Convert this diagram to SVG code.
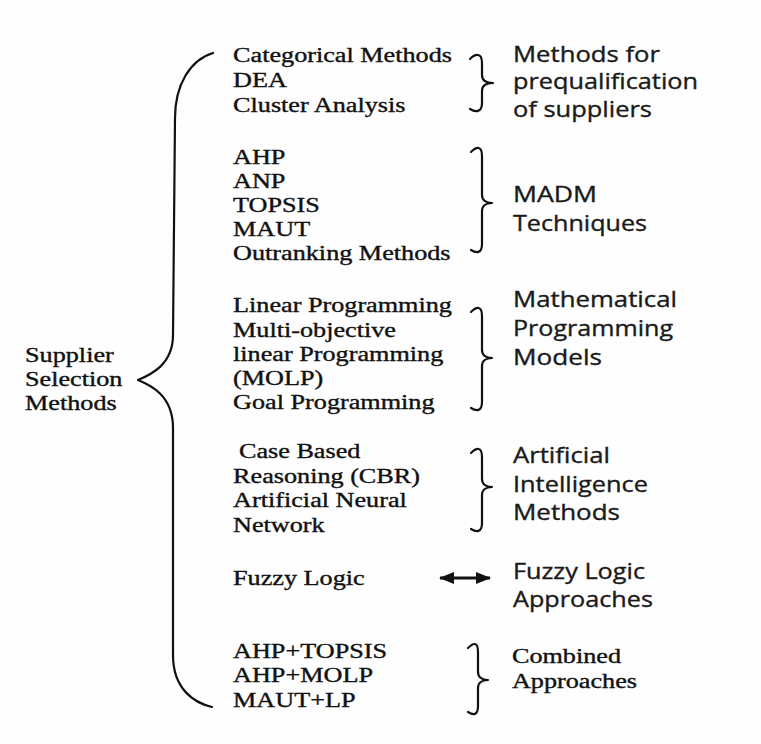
<svg xmlns="http://www.w3.org/2000/svg" width="761" height="744" viewBox="0 0 761 744">
<style>
.s{font-family:"Liberation Serif","Times New Roman",serif;font-size:20px;fill:#111;stroke:#111;stroke-width:0.35}
.a{font-family:"Open Sans","Noto Sans",sans-serif;font-size:21px;fill:#1a1a1a;stroke:#1a1a1a;stroke-width:0.35}
.br{fill:none;stroke:#111;stroke-width:2.2;stroke-linecap:round;stroke-linejoin:round}
.ar{stroke:#111;stroke-width:3}
</style>
<defs>
<marker id="head" viewBox="0 0 15 12" markerWidth="15" markerHeight="12" refX="14" refY="6" orient="auto-start-reverse" markerUnits="userSpaceOnUse">
<path d="M0,0 L15,6 L0,12 z" fill="#111"/>
</marker>
</defs>
<rect width="761" height="744" fill="#fefefe"/>

<g id="connectors">
<path class="br" d="M213,53 C190,60 175,85 175,118 L173,335 C173,365 150,375 138,380 C150,385 173,395 173,428 L173,655 C173,690 195,703 212,707"/>
<path class="br" d="M470,59 C475,54 482,52 482,63 L482,75 C482,80 486,83 493,83 C486,83 482,86 482,91 L482,103 C482,113 475,112 470,109"/>
<path class="br" d="M471,152 C476,147 482,145 482,156 L482,195 C482,200 486,203 492,203 C486,203 482,206 482,211 L482,244 C482,254 476,253 471,250"/>
<path class="br" d="M471,312 C476,307 482,305 482,316 L482,350 C482,355 486,358 492,358 C486,358 482,361 482,366 L482,402 C482,412 476,411 471,408"/>
<path class="br" d="M471,453 C476,448 482,446 482,457 L482,479 C482,484 486,487 492,487 C486,487 482,490 482,495 L482,523 C482,533 476,532 471,529"/>
<path class="br" d="M468,648 C473,643 478,641 478,652 L478,672 C478,677 482,680 488,680 C482,680 478,683 478,688 L478,706 C478,716 473,715 468,712"/>
<line class="ar" x1="440" y1="578" x2="490" y2="578" marker-start="url(#head)" marker-end="url(#head)"/>
</g>

<g id="root" transform="scale(1.31 1)">
<text class="s" x="19.1" y="362">Supplier</text>
<text class="s" x="19.1" y="386">Selection</text>
<text class="s" x="19.1" y="410">Methods</text>
</g>

<g id="prequal-methods" transform="scale(1.31 1)">
<text class="s" x="177.9" y="62">Categorical Methods</text>
<text class="s" x="177.9" y="87">DEA</text>
<text class="s" x="177.9" y="112">Cluster Analysis</text>
</g>
<g id="madm-methods" transform="scale(1.31 1)">
<text class="s" x="177.9" y="164">AHP</text>
<text class="s" x="177.9" y="188">ANP</text>
<text class="s" x="177.9" y="212">TOPSIS</text>
<text class="s" x="177.9" y="236">MAUT</text>
<text class="s" x="177.9" y="260">Outranking Methods</text>
</g>
<g id="mp-methods" transform="scale(1.31 1)">
<text class="s" x="177.9" y="312">Linear Programming</text>
<text class="s" x="177.9" y="337">Multi-objective</text>
<text class="s" x="177.9" y="361">linear Programming</text>
<text class="s" x="177.9" y="385">(MOLP)</text>
<text class="s" x="177.9" y="409">Goal Programming</text>
</g>
<g id="ai-methods" transform="scale(1.31 1)">
<text class="s" x="182.4" y="458">Case Based</text>
<text class="s" x="177.9" y="483">Reasoning (CBR)</text>
<text class="s" x="177.9" y="507">Artificial Neural</text>
<text class="s" x="177.9" y="532">Network</text>
</g>
<g id="fuzzy-methods" transform="scale(1.31 1)">
<text class="s" x="177.9" y="585">Fuzzy Logic</text>
</g>
<g id="combined-methods" transform="scale(1.31 1)">
<text class="s" x="177.9" y="658">AHP+TOPSIS</text>
<text class="s" x="177.9" y="682">AHP+MOLP</text>
<text class="s" x="177.9" y="707">MAUT+LP</text>
</g>

<g id="cat-prequal">
<text class="a" x="513" y="62" textLength="147" lengthAdjust="spacingAndGlyphs">Methods for</text>
<text class="a" x="513" y="89" textLength="185" lengthAdjust="spacingAndGlyphs">prequalification</text>
<text class="a" x="513" y="117" textLength="139" lengthAdjust="spacingAndGlyphs">of suppliers</text>
</g>
<g id="cat-madm">
<text class="a" x="513" y="202" textLength="84" lengthAdjust="spacingAndGlyphs">MADM</text>
<text class="a" x="513" y="231" textLength="134" lengthAdjust="spacingAndGlyphs">Techniques</text>
</g>
<g id="cat-mp">
<text class="a" x="513" y="307" textLength="164" lengthAdjust="spacingAndGlyphs">Mathematical</text>
<text class="a" x="513" y="336" textLength="160" lengthAdjust="spacingAndGlyphs">Programming</text>
<text class="a" x="513" y="365" textLength="89" lengthAdjust="spacingAndGlyphs">Models</text>
</g>
<g id="cat-ai">
<text class="a" x="513" y="463" textLength="97" lengthAdjust="spacingAndGlyphs">Artificial</text>
<text class="a" x="513" y="492" textLength="135" lengthAdjust="spacingAndGlyphs">Intelligence</text>
<text class="a" x="513" y="520" textLength="107" lengthAdjust="spacingAndGlyphs">Methods</text>
</g>
<g id="cat-fuzzy">
<text class="a" x="513" y="579" textLength="132" lengthAdjust="spacingAndGlyphs">Fuzzy Logic</text>
<text class="a" x="513" y="607" textLength="140" lengthAdjust="spacingAndGlyphs">Approaches</text>
</g>
<g id="cat-combined" transform="scale(1.31 1)">
<text class="s" x="390.8" y="663">Combined</text>
<text class="s" x="390.8" y="688">Approaches</text>
</g>
</svg>
